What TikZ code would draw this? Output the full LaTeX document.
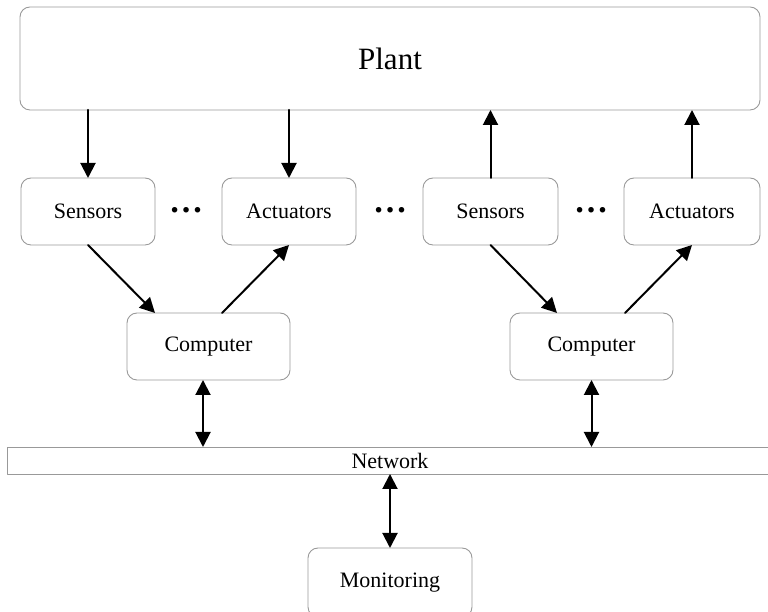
\documentclass[tikz,border=0pt]{standalone}
\usepackage{fontspec}
\setmainfont{Liberation Serif}
\usepackage{tikz}
\usetikzlibrary{arrows.meta}
\definecolor{pppppp}{rgb}{0.6,0.6,0.6}

\begin{document}
\begin{tikzpicture}[line cap=round,line join=round,>={Triangle[length=15pt,width=15pt]},x=1pt,y=1pt,
	box/.style={draw=pppppp,line width=0.9pt,rounded corners=10pt,inner sep=0pt,outer sep=0pt,minimum height=67pt,minimum width=134pt,font=\fontsize{22}{24}\selectfont},
	dots/.style={inner sep=0pt,font=\fontsize{34}{36}\selectfont\bfseries},
	link/.style={line width=2pt}]
		\clip(0,0) rectangle (768,612);
		\node[box,minimum width=740pt,minimum height=103pt,font=\fontsize{31}{34}\selectfont] (plant) at (390,553.5) {Plant};
		\node[box] (sensA) at (88,400.5) {Sensors};
		\node[box] (actA) at (289,400.5) {Actuators};
		\node[box,minimum width=135pt] (sensB) at (490.5,400.5) {Sensors};
		\node[box,minimum width=136pt] (actB) at (692,400.5) {Actuators};
		\node[dots] (dotsA) at (186,401.5) {…};
		\node[dots] (dotsB) at (390,401.5) {…};
		\node[dots] (dotsC) at (591,401.5) {…};
		\node[box,minimum width=163pt] (compA) at (208.5,265.5) {Computer};
		\node[box,minimum width=163pt] (compB) at (591.5,265.5) {Computer};
		\node[box,rounded corners=0pt,minimum width=766pt,minimum height=27pt] (net) at (390,151.5) {Network};
		\node[box,minimum width=164pt,minimum height=69pt] (mon) at (390,29.5) {Monitoring};
		\coordinate (busA) at (203,0);
		\draw[link,->] (sensA |- plant.south) -- (sensA.north);
		\draw[link,->] (actA |- plant.south) -- (actA.north);
		\draw[link,->] (sensB.north) -- (sensB |- plant.south);
		\draw[link,->] (actB.north) -- (actB |- plant.south);
		\draw[link,->] (sensA.south) -- ([xshift=-53.5pt]compA.north);
		\draw[link,->] ([xshift=13.5pt]compA.north) -- (actA.south);
		\draw[link,->] (sensB.south) -- ([xshift=-34.5pt]compB.north);
		\draw[link,->] ([xshift=33.5pt]compB.north) -- (actB.south);
		\draw[link,<->] (compA.south -| busA) -- (net.north -| busA);
		\draw[link,<->] (compB.south) -- (compB.south |- net.north);
		\draw[link,<->] (net.south -| mon.north) -- (mon.north);
\end{tikzpicture}
\end{document}
